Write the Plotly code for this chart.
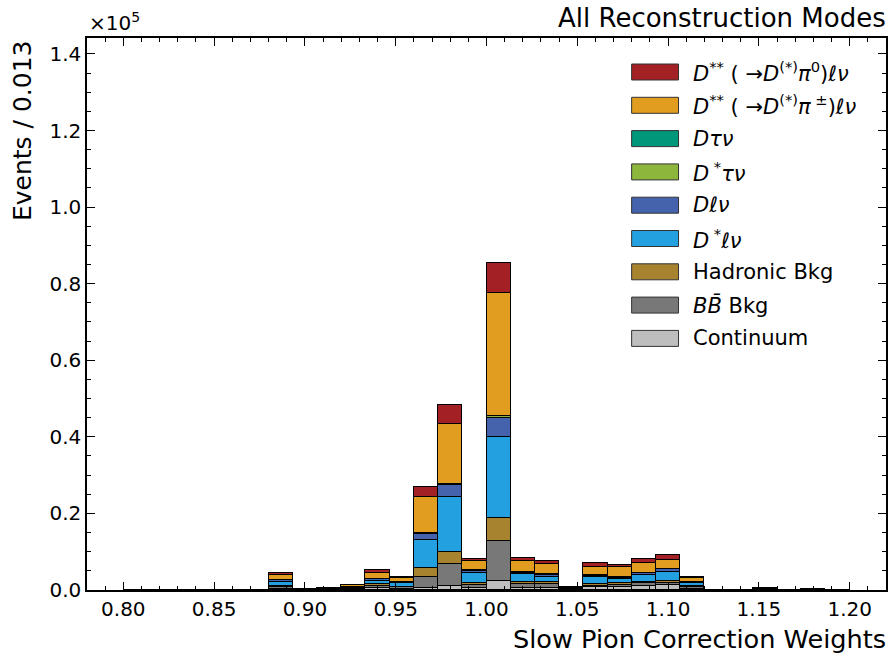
import numpy as np
import plotly.graph_objects as go

# ---- binning (30 bins between 0.8 and 1.2) ----
bin_lo, bin_hi, n_bins = 0.8, 1.2, 30

# ---- stacked components (events per bin), bottom -> top ----
continuum = [0, 0, 0, 0, 0, 0, 350, 20, 100, 200, 600, 300, 600, 1000, 450,
             2300, 500, 500, 150, 700, 700, 1000, 1300, 300, 10, 10, 100, 20, 60, 5]
bb_bkg = [0, 0, 0, 0, 0, 0, 550, 30, 100, 200, 550, 400, 2900, 5900, 800,
          10500, 1100, 1000, 200, 400, 500, 700, 600, 500, 20, 20, 200, 50, 120, 10]
hadronic = [0, 0, 0, 0, 0, 0, 200, 10, 50, 100, 350, 200, 2200, 3100, 500,
            6100, 600, 500, 100, 450, 500, 450, 450, 200, 5, 5, 50, 10, 30, 0]
dstar_lnu = [0, 0, 0, 0, 0, 0, 1100, 30, 100, 250, 870, 870, 7400, 14300, 2700,
             21100, 1900, 1450, 150, 1750, 1100, 1750, 2450, 870, 10, 10, 50, 20, 30, 5]
d_lnu = [0, 0, 0, 0, 0, 0, 450, 10, 30, 80, 450, 260, 1500, 3000, 500,
         4900, 400, 450, 50, 420, 450, 450, 600, 260, 5, 5, 20, 5, 10, 0]
dstar_taunu = [0, 0, 0, 0, 0, 0, 50, 0, 10, 20, 50, 50, 200, 200, 100,
               500, 100, 100, 10, 100, 100, 100, 100, 50, 0, 0, 0, 0, 0, 0]
d_taunu = [0, 0, 0, 0, 0, 0, 30, 0, 5, 10, 30, 30, 100, 100, 50,
           150, 50, 50, 5, 50, 50, 50, 50, 30, 0, 0, 0, 0, 0, 0]
dss_pipm = [0, 0, 0, 0, 0, 0, 1100, 30, 100, 450, 1570, 1050, 9300, 15700, 2400,
            31900, 2900, 2800, 100, 2200, 2600, 2600, 2400, 800, 10, 10, 60, 10, 30, 0]
dss_pi0 = [0, 0, 0, 0, 0, 0, 620, 10, 40, 100, 700, 260, 2700, 5000, 600,
           8000, 900, 700, 40, 870, 600, 870, 1300, 370, 5, 5, 20, 5, 10, 0]

names = [
    "Continuum",
    "<i>B</i><i>B̄</i> Bkg",
    "Hadronic Bkg",
    "<i>D</i><sup> *</sup><i>ℓν</i>",
    "<i>Dℓν</i>",
    "<i>D</i><sup> *</sup><i>τν</i>",
    "<i>Dτν</i>",
    "<i>D</i><sup>**</sup> ( →<i>D</i><sup>(*)</sup><i>π</i><sup> ±</sup>)<i>ℓν</i>",
    "<i>D</i><sup>**</sup> ( →<i>D</i><sup>(*)</sup><i>π</i><sup>0</sup>)<i>ℓν</i>",
]
series = [continuum, bb_bkg, hadronic, dstar_lnu, d_lnu, dstar_taunu, d_taunu, dss_pipm, dss_pi0]
colors = ["#BEBEBE", "#787878", "#A7832F", "#23A0DF", "#4563AD",
          "#8DB63C", "#00977A", "#E09D1F", "#A32125"]

y_tick_vals = [0, 20000, 40000, 60000, 80000, 100000, 120000, 140000]
y_tick_text = ["0.0", "0.2", "0.4", "0.6", "0.8", "1.0", "1.2", "1.4"]
x_tick_vals = [0.80, 0.85, 0.90, 0.95, 1.00, 1.05, 1.10, 1.15, 1.20]
x_tick_text = ["0.80", "0.85", "0.90", "0.95", "1.00", "1.05", "1.10", "1.15", "1.20"]

edges = np.linspace(bin_lo, bin_hi, n_bins + 1)
centers = 0.5 * (edges[:-1] + edges[1:])
width = edges[1] - edges[0]

FONT = "DejaVu Sans"
fig = go.Figure()
for name, vals, col in zip(names, series, colors):
    fig.add_trace(go.Bar(
        x=centers, y=vals, width=width, name=name,
        marker=dict(color=col, line=dict(color="black", width=1)),
        showlegend=False,
    ))

fig.update_layout(
    barmode="stack", bargap=0,
    width=891, height=653,
    margin=dict(l=87, r=3, t=38, b=63),
    plot_bgcolor="white", paper_bgcolor="white",
    font=dict(family=FONT, size=20, color="black"),
)
fig.update_xaxes(
    range=[0.78, 1.22], tickvals=x_tick_vals, ticktext=x_tick_text,
    ticks="inside", ticklen=8, tickwidth=1.2, tickcolor="black",
    showline=True, linecolor="black", linewidth=1.5, mirror="allticks",
    showgrid=False, zeroline=False,
    minor=dict(ticks="inside", dtick=0.01, tick0=0.8, ticklen=4, tickcolor="black", tickwidth=1),
    tickfont=dict(size=20),
)
fig.update_yaxes(
    range=[0, 144170], tickvals=y_tick_vals, ticktext=y_tick_text,
    ticks="inside", ticklen=8, tickwidth=1.2, tickcolor="black",
    showline=True, linecolor="black", linewidth=1.5, mirror="allticks",
    showgrid=False, zeroline=False,
    minor=dict(ticks="inside", dtick=5000, tick0=0, ticklen=4, tickcolor="black", tickwidth=1),
    tickfont=dict(size=20),
)

# texts
fig.add_annotation(text="All Reconstruction Modes", xref="paper", yref="paper",
                   x=1.0, y=1.0, xanchor="right", yanchor="bottom", yshift=3,
                   xshift=2, showarrow=False, font=dict(size=26))
fig.add_annotation(text="×10<sup>5</sup>", xref="paper", yref="paper",
                   x=0.0, y=1.0, xanchor="left", yanchor="bottom", yshift=1,
                   showarrow=False, font=dict(size=20))
fig.add_annotation(text="Slow Pion Correction Weights", xref="paper", yref="paper",
                   x=1.0, y=0.0, xanchor="right", yanchor="top", yshift=-32,
                   xshift=2, showarrow=False, font=dict(size=25.6))
fig.add_annotation(text="Events / 0.013", xref="paper", yref="paper",
                   x=0.0, y=1.0, xanchor="right", yanchor="top", xshift=-48,
                   textangle=-90, showarrow=False, font=dict(size=25))

# manual legend (top -> bottom)
leg_x0, leg_x1 = 633, 680
plot_l, plot_t, plot_w, plot_h = 87, 38, 891 - 87 - 3, 653 - 38 - 63
row0, dy = 72, 33.3
for i, (name, col) in enumerate(zip(names[::-1], colors[::-1])):
    yc = row0 + i * dy
    fig.add_shape(type="rect", xref="paper", yref="paper",
                  x0=(leg_x0 - plot_l) / plot_w, x1=(leg_x1 - plot_l) / plot_w,
                  y0=1 - (yc - 8 - plot_t) / plot_h, y1=1 - (yc + 8 - plot_t) / plot_h,
                  fillcolor=col, line=dict(color="#333333", width=1))
    fig.add_annotation(text=name, xref="paper", yref="paper",
                       x=(693 - plot_l) / plot_w, y=1 - (yc - plot_t) / plot_h,
                       xanchor="left", yanchor="middle", showarrow=False,
                       font=dict(size=21))

fig.write_html("out.html", config={"displayModeBar": False},
               post_script="document.body.style.margin='0';")
